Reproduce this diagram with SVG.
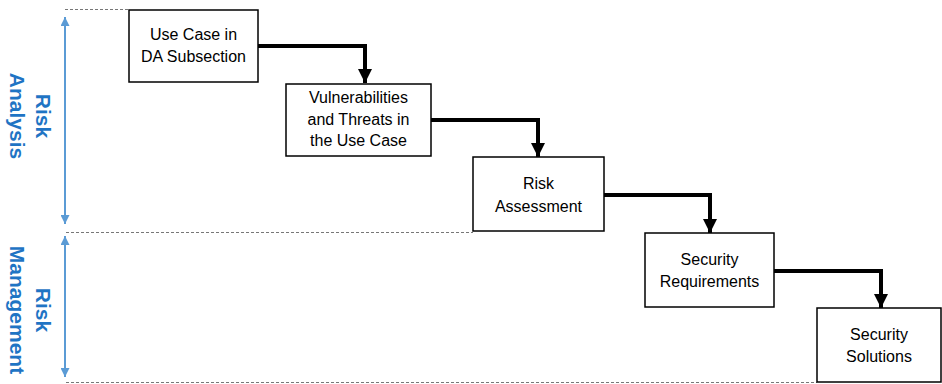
<svg xmlns="http://www.w3.org/2000/svg" width="942" height="384" viewBox="0 0 942 384">
  <defs>
    <marker id="blk" viewBox="0 0 10 10" refX="10" refY="5" markerWidth="3.6" markerHeight="3.6" markerUnits="strokeWidth" orient="auto">
      <path d="M0,0 L10,5 L0,10 z" fill="#000"/>
    </marker>
    <marker id="blu" viewBox="0 0 10 10" refX="10" refY="5" markerWidth="4.5" markerHeight="4.5" markerUnits="strokeWidth" orient="auto-start-reverse">
      <path d="M0,0 L10,5 L0,10 z" fill="#5B9BD5"/>
    </marker>
    <style>
      .box { fill: #fff; stroke: #000; stroke-width: 1.5; }
      .lbl { font-family: "Liberation Sans", Arial, sans-serif; font-size: 16px; fill: #000; text-anchor: middle; }
      .phase { font-family: "Liberation Sans", Arial, sans-serif; font-size: 21px; font-weight: bold; fill: #1F74C4; text-anchor: middle; }
      .guide { stroke: #777; stroke-width: 1; stroke-dasharray: 3 2; fill: none; }
      .span { stroke: #5B9BD5; stroke-width: 2; fill: none; marker-start: url(#blu); marker-end: url(#blu); }
      .flow { stroke: #000; stroke-width: 4; fill: none; marker-end: url(#blk); }
    </style>
  </defs>

  <!-- dashed phase boundaries -->
  <g id="guides">
    <line class="guide" x1="65" y1="9.5" x2="129" y2="9.5"/>
    <line class="guide" x1="66" y1="232.5" x2="473" y2="232.5"/>
    <line class="guide" x1="66" y1="382.5" x2="817" y2="382.5"/>
  </g>

  <!-- phase spans -->
  <g id="phases">
    <line class="span" x1="65" y1="17" x2="65" y2="224"/>
    <line class="span" x1="65" y1="236" x2="65" y2="377"/>
    <text class="phase" transform="translate(35.5,116) rotate(90)"><tspan x="0" y="0">Risk</tspan><tspan x="0" y="26">Analysis</tspan></text>
    <text class="phase" transform="translate(35.5,310) rotate(90)"><tspan x="0" y="0">Risk</tspan><tspan x="0" y="26">Management</tspan></text>
  </g>

  <!-- connectors -->
  <g id="connectors">
    <path class="flow" d="M258,46 H365 V83"/>
    <path class="flow" d="M431,120 H538 V157"/>
    <path class="flow" d="M604,195 H710 V233"/>
    <path class="flow" d="M774,271 H881 V308"/>
  </g>

  <g id="use-case">
    <rect class="box" x="129" y="10" width="129" height="72"/>
    <text class="lbl"><tspan x="193.5" y="40">Use Case in</tspan><tspan x="193.5" y="62">DA Subsection</tspan></text>
  </g>

  <g id="vulnerabilities">
    <rect class="box" x="286" y="84" width="145" height="72"/>
    <text class="lbl"><tspan x="358.5" y="103">Vulnerabilities</tspan><tspan x="358.5" y="125">and Threats in</tspan><tspan x="358.5" y="146">the Use Case</tspan></text>
  </g>

  <g id="risk-assessment">
    <rect class="box" x="473" y="157" width="131" height="74"/>
    <text class="lbl"><tspan x="538.5" y="189">Risk</tspan><tspan x="538.5" y="212">Assessment</tspan></text>
  </g>

  <g id="security-requirements">
    <rect class="box" x="645" y="233" width="129" height="74"/>
    <text class="lbl"><tspan x="709.5" y="265">Security</tspan><tspan x="709.5" y="287">Requirements</tspan></text>
  </g>

  <g id="security-solutions">
    <rect class="box" x="817" y="308" width="124" height="74"/>
    <text class="lbl"><tspan x="879" y="340">Security</tspan><tspan x="879" y="362">Solutions</tspan></text>
  </g>
</svg>
